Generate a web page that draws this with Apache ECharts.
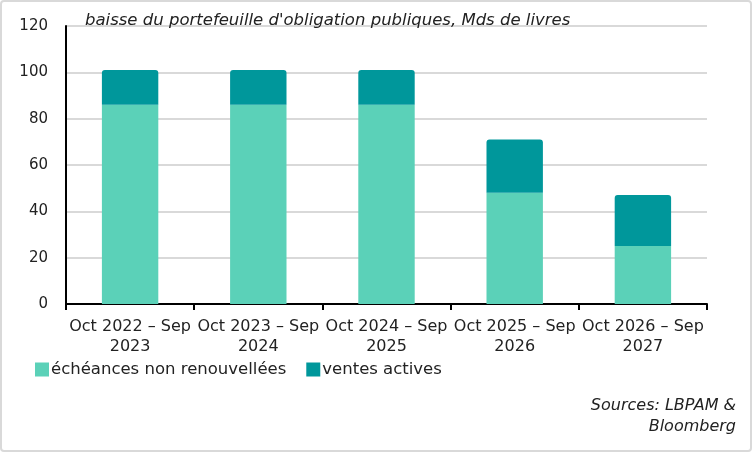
<!DOCTYPE html>
<html><head><meta charset="utf-8">
<script src="https://cdn.jsdelivr.net/npm/echarts@6/dist/echarts.min.js"></script>
<style>html,body{margin:0;padding:0;background:#fff}#c{width:752px;height:452px}</style>
</head><body><div id="c"></div>
<script>
const categories = ["Oct 2022 – Sep\n2023", "Oct 2023 – Sep\n2024", "Oct 2024 – Sep\n2025", "Oct 2025 – Sep\n2026", "Oct 2026 – Sep\n2027"];
const echeances = [86, 86, 86, 48, 25];
const ventes = [15, 15, 15, 23, 22];
const yTicks = [0, 20, 40, 60, 80, 100, 120];
const FONT = "DejaVu Sans";
const chart = echarts.init(document.getElementById('c'), null, {renderer: 'canvas'});
chart.setOption({
  backgroundColor: '#fff',
  animation: false,
  textStyle: {fontFamily: FONT},
  title: {text: "baisse du portefeuille d'obligation publiques, Mds de livres", left: 80, top: 7,
    textStyle: {fontFamily: FONT, fontStyle: 'italic', fontWeight: 'normal', fontSize: 16.5, color: '#222'}},
  grid: {left: 66, right: 45, top: 26, bottom: 148, containLabel: false},
  legend: {left: 30, top: 356, itemWidth: 14, itemHeight: 14, itemGap: 20, icon: 'rect',
    textStyle: {fontFamily: FONT, fontSize: 16.5, color: '#222', padding: [0, 0, 0, -3]},
    data: ['échéances non renouvellées', 'ventes actives']},
  xAxis: {type: 'category', data: categories,
    axisLine: {lineStyle: {color: '#000', width: 2}},
    axisTick: {show: true, length: 6, lineStyle: {color: '#000', width: 2}},
    axisLabel: {fontFamily: FONT, fontSize: 16, color: '#222', margin: 13, lineHeight: 20, interval: 0}},
  yAxis: {type: 'value', min: 0, max: 120, interval: 20,
    axisLine: {show: true, lineStyle: {color: '#000', width: 2}},
    axisTick: {show: false},
    axisLabel: {fontFamily: FONT, fontSize: 15, color: '#222', margin: 18,
      formatter: v => yTicks.includes(v) ? String(v) : ''},
    splitLine: {lineStyle: {color: '#d9d9d9', width: 2}}},
  series: [
    {name: 'échéances non renouvellées', type: 'bar', stack: 't', data: echeances, barWidth: '44%',
     itemStyle: {color: '#5bd1b8'}},
    {name: 'ventes actives', type: 'bar', stack: 't', data: ventes, barWidth: '44%',
     itemStyle: {color: '#00979b', borderRadius: [3, 3, 0, 0]}}
  ],
  graphic: [
    {type: 'rect', shape: {x: 1, y: 1, width: 750, height: 450, r: 3}, style: {fill: 'none', stroke: '#d9d9d9', lineWidth: 2}, silent: true},
    {type: 'text', x: 736, y: 395, style: {text: 'Sources: LBPAM &\nBloomberg', align: 'right', fontFamily: FONT, fontStyle: 'italic', fontSize: 16, lineHeight: 21, fill: '#222'}}
  ]
});
</script></body></html>
